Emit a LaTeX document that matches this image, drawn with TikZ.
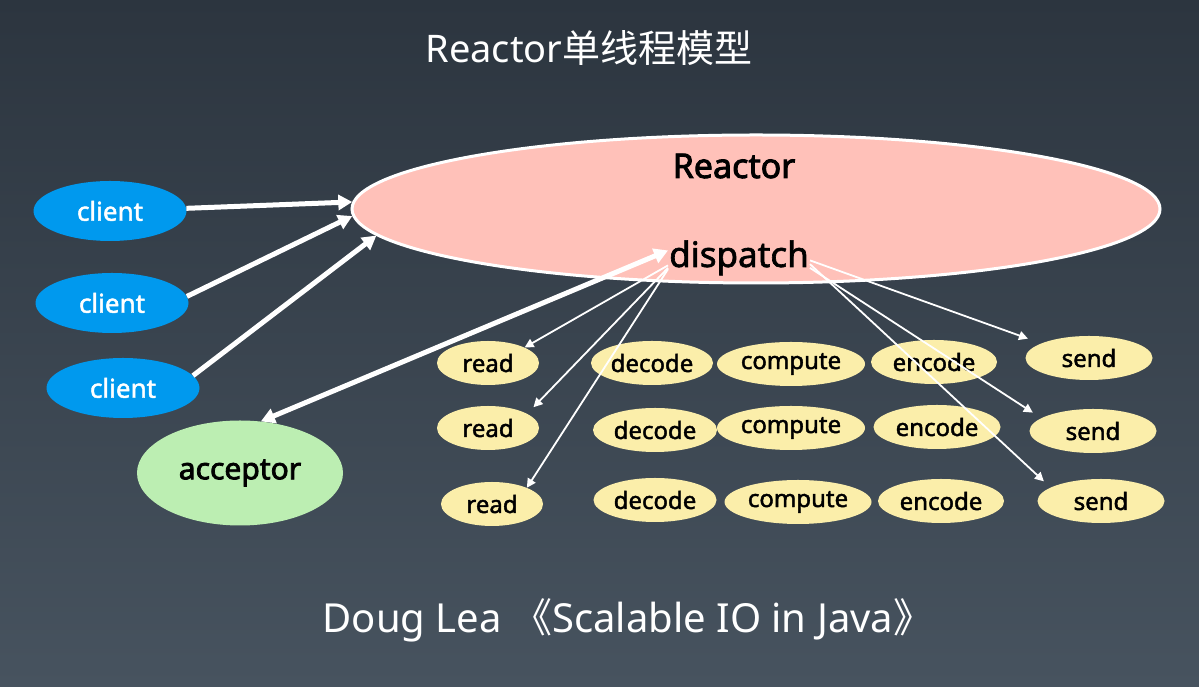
\documentclass[tikz,border=0pt]{standalone}
\usepackage{fontspec}
\setmainfont{Noto Sans}[AutoFakeBold=2.6]
\newfontfamily\med{Noto Sans}[FakeBold=1.8]
\newfontfamily\cjk{Noto Sans CJK SC}
\usepackage{tikz}
\usetikzlibrary{shapes}
\usetikzlibrary{arrows.meta}
\definecolor{bgtop}{RGB}{44,53,63}
\definecolor{bgbot}{RGB}{71,83,95}
\definecolor{clientblue}{RGB}{0,153,238}
\definecolor{accgreen}{RGB}{188,238,178}
\definecolor{reactpink}{RGB}{255,193,185}
\definecolor{taskyellow}{RGB}{251,238,170}

\begin{document}
\begin{tikzpicture}[x=1pt, y=1pt,
    R/.style={ellipse, fill=reactpink, draw=white, line width=3pt, inner sep=0pt},
    C/.style={ellipse, fill=clientblue, inner sep=0pt, minimum width=153pt, minimum height=60pt, text=white, font=\med\fontsize{26}{28}\selectfont},
    A/.style={ellipse, fill=accgreen, inner sep=0pt, font=\bfseries\fontsize{30}{32}\selectfont},
    T/.style={ellipse, fill=taskyellow, inner sep=0pt, minimum height=44pt, font=\med\fontsize{24}{26}\selectfont},
    W/.style={white, line width=5pt, >={Triangle[length=14pt,width=15pt]}},
    N/.style={white, line width=1.8pt, >={Triangle[length=9pt,width=9pt]}}]
    \useasboundingbox (0,0) rectangle (1199,687);
    \fill[top color=bgtop, bottom color=bgbot] (0,0) rectangle (1199,687);

    \node[text=white, anchor=base, font=\fontsize{38}{40}\selectfont] (title) at (589,624) {Reactor{\cjk 单线程模型}};

    \node[R, minimum width=808pt, minimum height=148pt] (reactor) at (756,478) {};
    \node[anchor=base, font=\bfseries\fontsize{34}{36}\selectfont] (rlabel) at (734,509) {Reactor};
    \node[anchor=base, inner sep=1pt, font=\med\fontsize{35}{37}\selectfont] (dispatch) at (739,420) {dispatch};

    \node[C] (c1) at (110,476) {client};
    \node[C] (c2) at (112,384) {client};
    \node[C] (c3) at (123,299) {client};
    \node[A, minimum width=206pt, minimum height=105pt] (acc) at (240,214) {acceptor};

    \node[T, minimum width=102pt] (r1) at (488,324) {read};
    \node[T, minimum width=102pt] (r2) at (488,259) {read};
    \node[T, minimum width=102pt] (r3) at (492,183) {read};
    \node[T, minimum width=122pt] (d1) at (652,324) {decode};
    \node[T, minimum width=124pt] (d2) at (655,257) {decode};
    \node[T, minimum width=123pt] (d3) at (655,187) {decode};
    \node[T, minimum width=148pt] (m1) at (791,323) {compute};
    \node[T, minimum width=148pt] (m2) at (791,259) {compute};
    \node[T, minimum width=147pt] (m3) at (798,185) {compute};
    \node[T, minimum width=126pt] (e1) at (934,325) {encode};
    \node[T, minimum width=127pt] (e2) at (937,260) {encode};
    \node[T, minimum width=126pt] (e3) at (941,186) {encode};
    \node[T, minimum width=127pt] (s1) at (1089,329) {send};
    \node[T, minimum width=127pt] (s2) at (1093,256) {send};
    \node[T, minimum width=127pt] (s3) at (1101,186) {send};

    \node[text=white, anchor=base, font=\fontsize{40}{42}\selectfont] (book) at (628,54) {Doug Lea {\cjk 《}Scalable IO in Java{\cjk 》}};

    \draw[W, ->] (c1.2) -- (reactor.179);
    \draw[W, ->] (c2.5) -- (reactor.181);
    \draw[W, ->] (c3.10) -- (reactor.184);
    \draw[W, <->] (acc.68) -- (dispatch.174);

    \draw[N, ->] (dispatch.186) -- (r1.23);
    \draw[N, ->, shorten >=9pt] (dispatch.188) -- (r2.20);
    \draw[N, ->] (dispatch.189) -- (r3.25);
    \draw[N, ->, shorten >=14pt] (dispatch.358) -- (s1.163);
    \draw[N, ->, shorten >=10pt] (dispatch.352) -- (s2.166);
    \draw[N, ->, shorten >=9pt] (dispatch.355) -- (s3.165);
\end{tikzpicture}
\end{document}
